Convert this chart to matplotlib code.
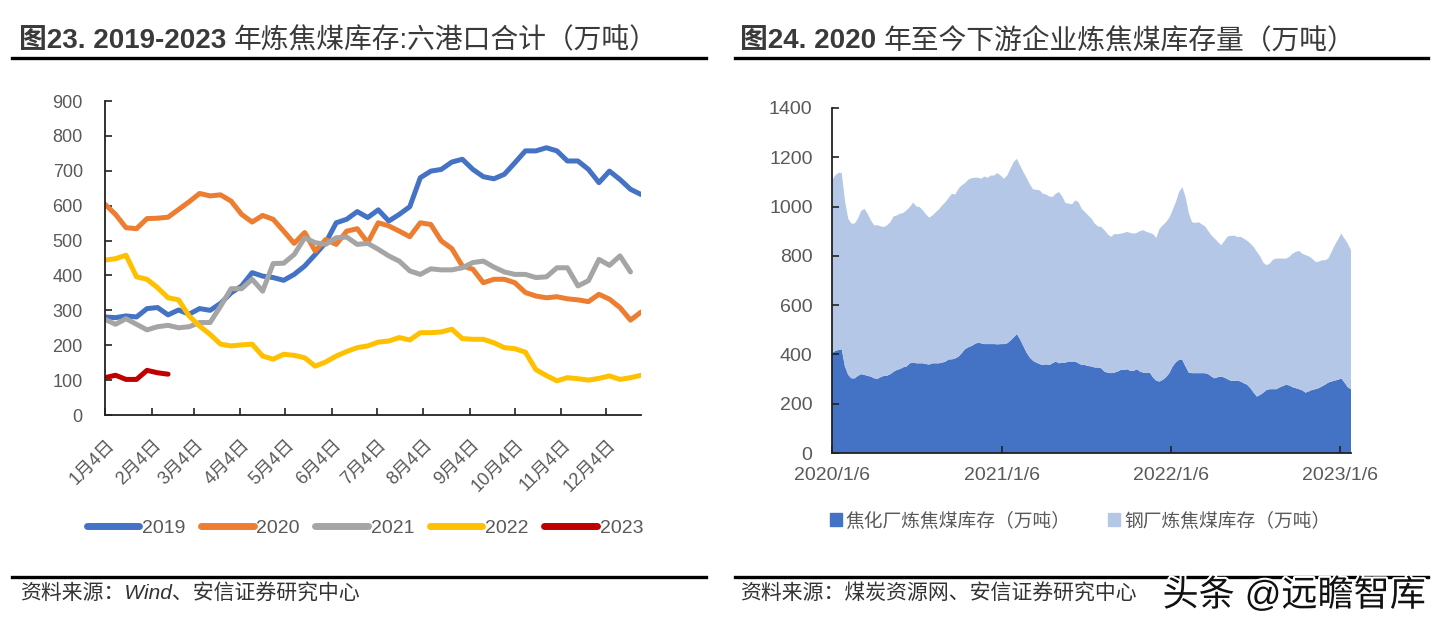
import numpy as np
import pandas as pd
import matplotlib
matplotlib.use("Agg")
import matplotlib.pyplot as plt
from matplotlib.lines import Line2D
from matplotlib.patches import Patch
from matplotlib.transforms import ScaledTranslation
import matplotlib.patheffects as pe

plt.rcParams['font.family'] = ['Liberation Sans', 'Noto Sans CJK SC']

# ================= LEFT: six-port coking coal stock ================= #
MONTH_LABELS = ["1月4日", "2月4日", "3月4日", "4月4日", "5月4日", "6月4日",
                "7月4日", "8月4日", "9月4日", "10月4日", "11月4日", "12月4日"]

Y2019 = [281, 279, 284, 281, 305, 308, 287, 301, 289, 305, 300, 320, 350, 370,
         408, 398, 394, 386, 403, 427, 460, 494, 551, 561, 583, 566, 588, 556,
         575, 597, 680, 699, 704, 725, 733, 704, 683, 677, 690, 723, 757, 757,
         766, 757, 728, 728, 704, 666, 699, 675, 647, 632]
Y2020 = [604, 575, 537, 534, 563, 564, 567, 589, 611, 635, 628, 631, 613, 575,
         553, 572, 561, 527, 492, 523, 470, 503, 489, 527, 534, 494, 551, 542,
         527, 511, 551, 546, 499, 477, 427, 418, 379, 389, 389, 379, 351, 341,
         336, 339, 333, 330, 325, 346, 332, 308, 272, 295]
Y2021 = [274, 260, 276, 260, 244, 253, 257, 250, 253, 265, 265, 312, 362, 362,
         389, 355, 434, 435, 460, 508, 494, 489, 508, 510, 489, 492, 475, 456,
         441, 413, 403, 419, 416, 416, 422, 437, 441, 424, 410, 403, 403, 394,
         396, 422, 422, 370, 385, 446, 429, 456, 410]
Y2022 = [444, 448, 458, 396, 389, 365, 336, 330, 284, 255, 231, 203, 198, 201,
         203, 169, 160, 174, 171, 164, 140, 152, 169, 182, 193, 198, 209, 212,
         222, 215, 236, 236, 238, 246, 219, 217, 217, 207, 193, 190, 180, 130,
         113, 98, 107, 104, 100, 105, 112, 102, 107, 114]
Y2023 = [107, 114, 102, 102, 128, 121, 117]

SERIES = {"2019": Y2019, "2020": Y2020, "2021": Y2021, "2022": Y2022, "2023": Y2023}
COLORS = {"2019": "#4472C4", "2020": "#ED7D31", "2021": "#A5A5A5",
          "2022": "#FFC000", "2023": "#C00000"}

# ================= RIGHT: downstream coking coal stock ================= #
START_DATE = "2020-01-06"
COKE_PLANT = [405, 414, 418, 421, 351, 317, 303, 303, 313, 320,
              317, 313, 310, 303, 301, 308, 313, 314, 320, 330,
              337, 341, 348, 351, 364, 367, 364, 364, 364, 361,
              359, 364, 364, 364, 367, 371, 380, 380, 384, 391,
              405, 421, 429, 434, 442, 448, 445, 442, 442, 442,
              442, 441, 442, 442, 445, 456, 469, 483, 461, 434,
              407, 387, 374, 367, 361, 357, 360, 357, 364, 371,
              364, 367, 367, 371, 371, 371, 364, 357, 357, 353,
              351, 347, 347, 344, 330, 326, 324, 326, 330, 337,
              337, 340, 333, 333, 340, 330, 326, 326, 326, 306,
              293, 290, 297, 308, 324, 351, 368, 378, 378, 351,
              326, 324, 324, 324, 324, 324, 320, 310, 303, 308,
              310, 306, 299, 293, 293, 294, 290, 283, 277, 263,
              245, 229, 236, 245, 256, 259, 259, 259, 266, 272,
              277, 274, 267, 263, 259, 254, 245, 250, 256, 259,
              263, 270, 277, 286, 290, 294, 297, 303, 286, 267,
              259]
STEEL_MILL = [701, 712, 719, 715, 674, 634, 628, 628, 638, 662,
              674, 658, 634, 621, 623, 612, 604, 610, 617, 630,
              627, 630, 626, 634, 634, 649, 637, 634, 621, 607,
              596, 600, 613, 625, 638, 647, 656, 672, 665, 681,
              681, 674, 680, 681, 675, 669, 668, 680, 675, 684,
              684, 695, 684, 671, 681, 697, 711, 711, 706, 706,
              710, 703, 696, 701, 705, 695, 689, 684, 675, 681,
              695, 674, 647, 641, 638, 654, 654, 634, 621, 611,
              600, 584, 573, 573, 574, 562, 553, 562, 558, 553,
              556, 557, 560, 557, 553, 571, 578, 571, 567, 582,
              580, 620, 627, 629, 631, 634, 650, 681, 701, 688,
              648, 613, 609, 613, 604, 596, 581, 573, 567, 548,
              533, 555, 580, 588, 589, 583, 587, 587, 584, 587,
              591, 587, 562, 527, 506, 510, 526, 530, 523, 517,
              512, 522, 542, 553, 561, 555, 558, 548, 533, 517,
              513, 512, 505, 503, 526, 549, 569, 587, 584, 583,
              564]
DATE_TICKS = ["2020-01-06", "2021-01-06", "2022-01-06", "2023-01-06"]
DATE_LABELS = ["2020/1/6", "2021/1/6", "2022/1/6", "2023/1/6"]

W, H = 1441, 628
TXT = "#595959"

fig = plt.figure(figsize=(W / 100, H / 100), dpi=100)
fig.patch.set_facecolor("white")


def style_axes(ax, size):
    for s in ["top", "right"]:
        ax.spines[s].set_visible(False)
    for s in ["left", "bottom"]:
        ax.spines[s].set_color("#222222")
        ax.spines[s].set_linewidth(1.3)
    ax.tick_params(direction="in", length=5, width=1.2, color="#222222",
                   labelcolor=TXT, labelsize=size)


# ---- left chart ----
ax1 = fig.add_axes([105 / W, 1 - 415 / H, 536 / W, 314 / H])
for name, vals in SERIES.items():
    ax1.plot(np.arange(len(vals)), vals, color=COLORS[name], lw=3.6,
             solid_capstyle="round", solid_joinstyle="round", label=name)
ax1.set_xlim(0, 51)
ax1.set_ylim(0, 900)
ax1.set_yticks(range(0, 901, 100))
style_axes(ax1, 13)
ax1.tick_params(axis="y", pad=16)

month_dates = pd.to_datetime([f"2019-{m:02d}-04" for m in range(1, 13)])
month_pos = (month_dates - pd.Timestamp("2019-01-04")).days / 7
ax1.set_xticks(month_pos)
ax1.set_xticklabels(MONTH_LABELS, rotation=45, ha="right", va="center",
                    rotation_mode="anchor", fontsize=13)
ax1.tick_params(axis="x", pad=20)
for lab in ax1.get_xticklabels():
    lab.set_transform(lab.get_transform() + ScaledTranslation(5 / 72, 0, fig.dpi_scale_trans))

leg1 = fig.legend(*ax1.get_legend_handles_labels(), loc="center",
                  bbox_to_anchor=(365 / W, 1 - 528 / H), ncol=5, frameon=False,
                  fontsize=14, handlelength=2.7, handletextpad=0.15,
                  columnspacing=0.8)
for t in leg1.get_texts():
    t.set_color(TXT)
for h in leg1.get_lines():
    h.set_linewidth(5)

# ---- right chart ----
ax2 = fig.add_axes([832 / W, 1 - 453 / H, 519 / W, 345 / H])
dates = pd.date_range(START_DATE, periods=len(COKE_PLANT), freq="7D")
ax2.stackplot(dates, COKE_PLANT, STEEL_MILL, colors=["#4472C4", "#B4C7E7"],
              labels=["焦化厂炼焦煤库存（万吨）", "钢厂炼焦煤库存（万吨）"])
ax2.set_xlim(dates[0], dates[-1])
ax2.set_ylim(0, 1400)
ax2.set_yticks(range(0, 1401, 200))
style_axes(ax2, 14)
ax2.tick_params(axis="y", pad=14)
ax2.set_xticks(pd.to_datetime(DATE_TICKS))
ax2.set_xticklabels(DATE_LABELS)
ax2.tick_params(axis="x", pad=10)

handles = [Patch(color="#4472C4"), Patch(color="#B4C7E7")]
leg2 = fig.legend(handles, ["焦化厂炼焦煤库存（万吨）", "钢厂炼焦煤库存（万吨）"],
                  loc="center", bbox_to_anchor=(1080 / W, 1 - 521 / H), ncol=2,
                  frameon=False, fontsize=13.5, handlelength=0.65,
                  handleheight=0.65, handletextpad=0.2, columnspacing=2.0)
for t in leg2.get_texts():
    t.set_color(TXT)

# ---- titles, rules, sources ----
for x0, x1 in [(12, 706), (735, 1428)]:
    fig.add_artist(Line2D([x0 / W, x1 / W], [1 - 58 / H] * 2, color="black", lw=2.4))
    fig.add_artist(Line2D([x0 / W, x1 / W], [1 - 577 / H] * 2, color="black", lw=2.4))

TITLE_COLOR = "#3a3a3a"
t1 = fig.text(19 / W, 1 - 41 / H, "图23. 2019-2023 ", fontsize=20, fontweight="bold",
              va="center", ha="left", color=TITLE_COLOR)
ax1.annotate("年炼焦煤库存:六港口合计（万吨）", xy=(1, 0.5), xycoords=t1,
             va="center", ha="left", fontsize=20, color=TITLE_COLOR,
             annotation_clip=False)
t2 = fig.text(740 / W, 1 - 41 / H, "图24. 2020 ", fontsize=20, fontweight="bold",
              va="center", ha="left", color=TITLE_COLOR)
ax2.annotate("年至今下游企业炼焦煤库存量（万吨）", xy=(1, 0.5), xycoords=t2,
             va="center", ha="left", fontsize=20, color=TITLE_COLOR,
             annotation_clip=False)

fig.text(20 / W, 1 - 594 / H, "资料来源：Wind、安信证券研究中心", fontsize=15,
         style="italic", va="center", ha="left", color="#333333")
fig.text(740 / W, 1 - 594 / H, "资料来源：煤炭资源网、安信证券研究中心", fontsize=15,
         style="italic", va="center", ha="left", color="#333333")
fig.text(1426 / W, 1 - 596 / H, "头条 @远瞻智库", fontsize=26, va="center",
         ha="right", color="#111111",
         path_effects=[pe.withStroke(linewidth=3, foreground="white")])

fig.savefig("out.png", dpi=100, facecolor="white")
